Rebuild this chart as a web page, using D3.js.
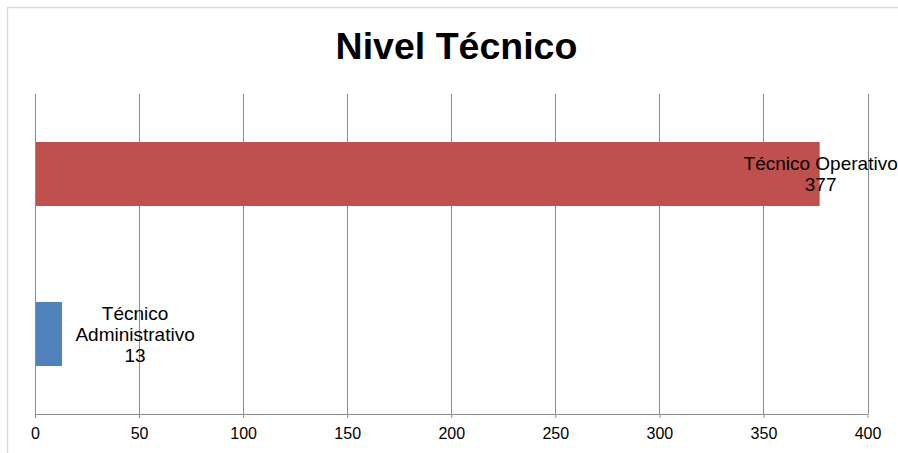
<!DOCTYPE html>
<html>
<head>
<meta charset="utf-8">
<script src="https://cdn.jsdelivr.net/npm/d3@7/dist/d3.min.js"></script>
<style>
  html, body { margin: 0; padding: 0; background: #fff; }
  svg { display: block; font-family: "Liberation Sans", Arial, sans-serif; }
</style>
</head>
<body>
<svg id="chart" width="898" height="453"></svg>
<script>
const title = "Nivel Técnico";
const categories = ["Técnico Operativo", "Técnico Administrativo"];
const values = [377, 13];
const colors = ["#C0504D", "#4F81BD"];
const labelLines = [["Técnico Operativo", "377"], ["Técnico", "Administrativo", "13"]];
const xTicks = [0, 50, 100, 150, 200, 250, 300, 350, 400];

const svg = d3.select("#chart");
const W = 898, H = 453;
const plot = { left: 35, right: 867.5, top: 94, bottom: 414 };

// outer border
svg.append("rect")
  .attr("x", 7.5).attr("y", 7.5)
  .attr("width", W + 10).attr("height", H + 10)
  .attr("fill", "none").attr("stroke", "#d9d9d9").attr("stroke-width", 1.5);

const x = d3.scaleLinear().domain([0, 400]).range([plot.left, plot.right]);
const y = d3.scaleBand().domain(categories).range([plot.top, plot.bottom])
  .paddingInner(0.6).paddingOuter(0.3);

// gridlines
svg.append("g").selectAll("line").data(xTicks.slice(1)).join("line")
  .attr("x1", d => Math.round(x(d)) + 0.5).attr("x2", d => Math.round(x(d)) + 0.5)
  .attr("y1", plot.top).attr("y2", plot.bottom)
  .attr("stroke", "#8c8c8c").attr("stroke-width", 1);

// bars
svg.append("g").selectAll("rect").data(categories).join("rect")
  .attr("x", x(0))
  .attr("y", d => y(d))
  .attr("width", (d, i) => x(values[i]) - x(0))
  .attr("height", y.bandwidth())
  .attr("fill", (d, i) => colors[i]);

// axes
const xAxis = d3.axisBottom(x).tickValues(xTicks).tickSize(4).tickPadding(10).tickFormat(d3.format("d"));
const gx = svg.append("g").attr("transform", `translate(0,${plot.bottom})`).call(xAxis);
gx.select(".domain").attr("stroke", "#8c8c8c").attr("d", `M${plot.left},0.5H${plot.right}`);
gx.selectAll(".tick line").attr("stroke", "#8c8c8c");
gx.selectAll(".tick text").attr("font-size", 16).attr("fill", "#000")
  .attr("font-family", "'Liberation Sans', Arial, sans-serif");

// y axis line
svg.append("line")
  .attr("x1", plot.left + 0.5).attr("x2", plot.left + 0.5)
  .attr("y1", plot.top).attr("y2", plot.bottom + 4)
  .attr("stroke", "#8c8c8c");

// data labels
const lh = 21.3;
categories.forEach((c, i) => {
  const lines = labelLines[i];
  const cy = y(c) + y.bandwidth() / 2;
  const cx = i === 0 ? x(values[i]) + 1 : x(values[i]) + 73;
  const firstBaseline = cy + 6.8 - (lines.length - 1) * lh / 2;
  const t = svg.append("text")
    .attr("text-anchor", "middle")
    .attr("font-size", 19)
    .attr("fill", "#000");
  lines.forEach((l, k) => {
    t.append("tspan").attr("x", cx).attr("y", firstBaseline + k * lh).text(l);
  });
});

// title
svg.append("text")
  .attr("x", 456.5).attr("y", 58.5)
  .attr("text-anchor", "middle")
  .attr("font-size", 37.5).attr("font-weight", "bold")
  .attr("fill", "#000")
  .text(title);
</script>
</body>
</html>
